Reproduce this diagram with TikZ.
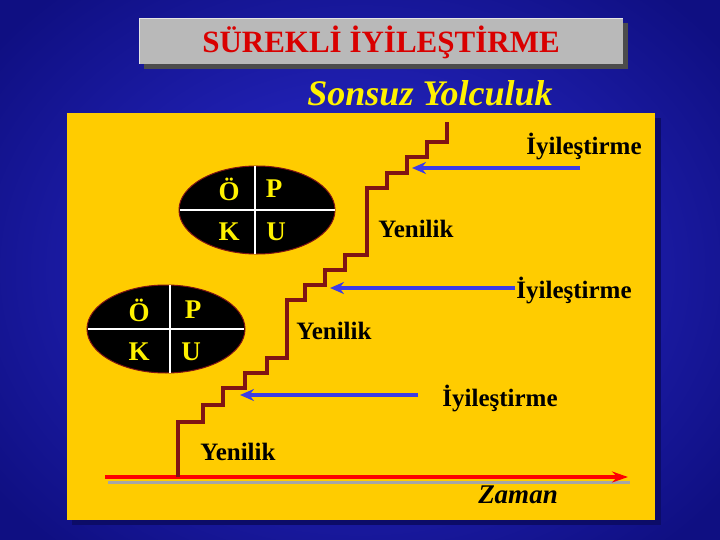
\documentclass[tikz,border=0pt]{standalone}
\usepackage{fontspec}
\setmainfont{Liberation Serif}
\usetikzlibrary{arrows.meta}
\definecolor{bgblue}{RGB}{45,45,215}
\definecolor{bgdark}{RGB}{15,15,130}
\definecolor{panel}{RGB}{255,204,0}
\definecolor{stair}{RGB}{128,20,20}
\definecolor{arrowblue}{RGB}{60,60,230}
\tikzset{
  lbl/.style={font=\bfseries\fontsize{25}{27}\selectfont, text=black, inner sep=0},
  opku/.style={font=\bfseries\fontsize{27}{29}\selectfont, text=yellow, inner sep=0},
  impr/.style={arrowblue, line width=3.5pt, -{Stealth[length=14pt,width=12pt]}},
  oval/.style={draw=stair, fill=black, line width=1pt}
}
\begin{document}
\begin{tikzpicture}[x=1pt,y=-1pt]
\useasboundingbox (0,0) rectangle (720,540);
\shade[inner color=bgblue, outer color=bgdark] (-100,-100) rectangle (820,640);
% title
\fill[black!70] (144,23) rectangle (628,69);
\fill[gray!55] (139,18) rectangle (623,64);
\draw[white!80!gray, line width=0.8pt] (139,64) -- (139,18) -- (623,18);
\node[font=\bfseries\fontsize{31}{33}\selectfont, text=red!85!black] (title) at (381,42) {SÜREKLİ İYİLEŞTİRME};
\node[font=\bfseries\itshape\fontsize{36}{38}\selectfont, text=yellow] (sub) at (430,93) {Sonsuz Yolculuk};
% panel
\fill[bgdark!80!black] (72,118) rectangle (661,525);
\fill[panel] (67,113) rectangle (655,520);
% time axis
\coordinate (t0) at (105,477);
\coordinate (t1) at (628,477);
\draw[gray!70, line width=3pt] (108,482) -- (630,482);
\draw[red, line width=3.5pt, -{Stealth[length=16pt,width=11pt]}] (t0) -- (t1);
\node[font=\bfseries\itshape\fontsize{27}{29}\selectfont] (zaman) at (518,495) {Zaman};
% stairs
\draw[stair, line width=3.5pt] (178,477) -- (178,422) -- (203,422) -- (203,405) -- (223,405) -- (223,388)
 -- (245,388) -- (245,373) -- (267,373) -- (267,358) -- (287,358) -- (287,300) -- (305,300) -- (305,285)
 -- (325,285) -- (325,270) -- (345,270) -- (345,255) -- (367,255) -- (367,188) -- (387,188) -- (387,173)
 -- (407,173) -- (407,157) -- (427,157) -- (427,142) -- (447,142) -- (447,122);
% arrows
\coordinate (a1s) at (418,395); \coordinate (a1e) at (240,395);
\coordinate (a2s) at (515,288); \coordinate (a2e) at (330,288);
\coordinate (a3s) at (580,168); \coordinate (a3e) at (412,168);
\draw[impr] (a1s) -- (a1e);
\draw[impr] (a2s) -- (a2e);
\draw[impr] (a3s) -- (a3e);
\node[lbl] (i1) at (500,398) {İyileştirme};
\node[lbl] (i2) at (574,290) {İyileştirme};
\node[lbl] (i3) at (584,146) {İyileştirme};
\node[lbl] (y1) at (238,452) {Yenilik};
\node[lbl] (y2) at (334,331) {Yenilik};
\node[lbl] (y3) at (416,229) {Yenilik};
% ovals
\draw[oval] (257,210) ellipse [x radius=78, y radius=44];
\draw[white, line width=2.5pt] (180,210) -- (335,210) (255,166) -- (255,254);
\node[opku] (o1) at (229,189) {Ö};
\node[opku] (p1) at (274,189) {P};
\node[opku] (k1) at (229,232) {K};
\node[opku] (u1) at (276,232) {U};
\draw[oval] (166,329) ellipse [x radius=79, y radius=44];
\draw[white, line width=2.5pt] (88,329) -- (244,329) (170,285) -- (170,373);
\node[opku] (o2) at (139,310) {Ö};
\node[opku] (p2) at (193,310) {P};
\node[opku] (k2) at (139,352) {K};
\node[opku] (u2) at (191,352) {U};
\end{tikzpicture}
\end{document}
